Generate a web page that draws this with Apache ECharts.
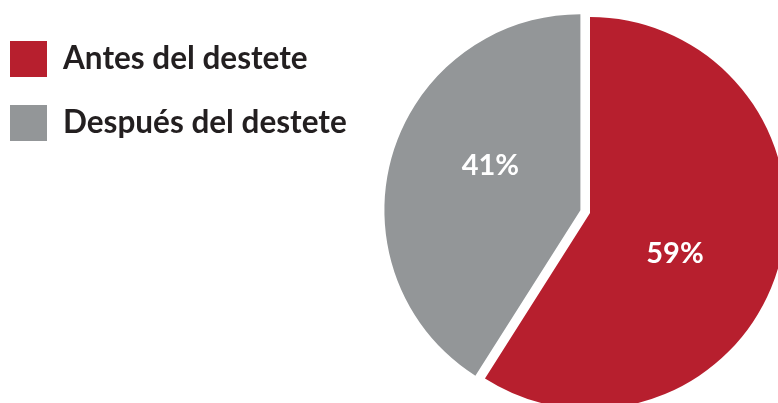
<!DOCTYPE html>
<html>
<head>
<meta charset="utf-8">
<script src="https://cdn.jsdelivr.net/npm/echarts@6/dist/echarts.min.js"></script>
<style>
  html, body { margin: 0; padding: 0; background: #ffffff; }
  #chart { width: 778px; height: 403px; }
</style>
</head>
<body>
<div id="chart"></div>
<script>
// Share of cases by weaning period
const categories = ['Antes del destete', 'Después del destete'];
const values = [59, 41];
const colors = ['#b71f2e', '#939698'];
const labelOffsets = [[-12, 12], [7, -16]];

const chart = echarts.init(document.getElementById('chart'), null, { renderer: 'canvas' });

chart.setOption({
  animation: false,
  legend: {
    orient: 'vertical',
    left: 10,
    top: 41,
    padding: 0,
    icon: 'rect',
    itemWidth: 37,
    itemHeight: 36,
    itemGap: 28,
    selectedMode: false,
    textStyle: {
      fontFamily: 'Lato',
      fontWeight: 'bold',
      fontSize: 31.5,
      color: '#231f20',
      padding: [2, 0, 0, 11]
    },
    data: categories
  },
  series: [{
    type: 'pie',
    center: [590, 213],
    radius: 196,
    startAngle: 90,
    clockwise: true,
    selectedMode: 'multiple',
    selectedOffset: 10,
    silent: true,
    label: {
      position: 'inside',
      formatter: '{c}%',
      color: '#ffffff',
      fontFamily: 'Lato',
      fontWeight: 'bold',
      fontSize: 29
    },
    labelLine: { show: false },
    emphasis: { disabled: true },
    data: categories.map((name, i) => ({
      name: name,
      value: values[i],
      selected: i === 1,
      itemStyle: { color: colors[i] },
      label: { offset: labelOffsets[i] },
      select: {
        itemStyle: { color: colors[i] },
        label: { offset: labelOffsets[i], color: '#ffffff' }
      }
    }))
  }]
});
</script>
</body>
</html>
